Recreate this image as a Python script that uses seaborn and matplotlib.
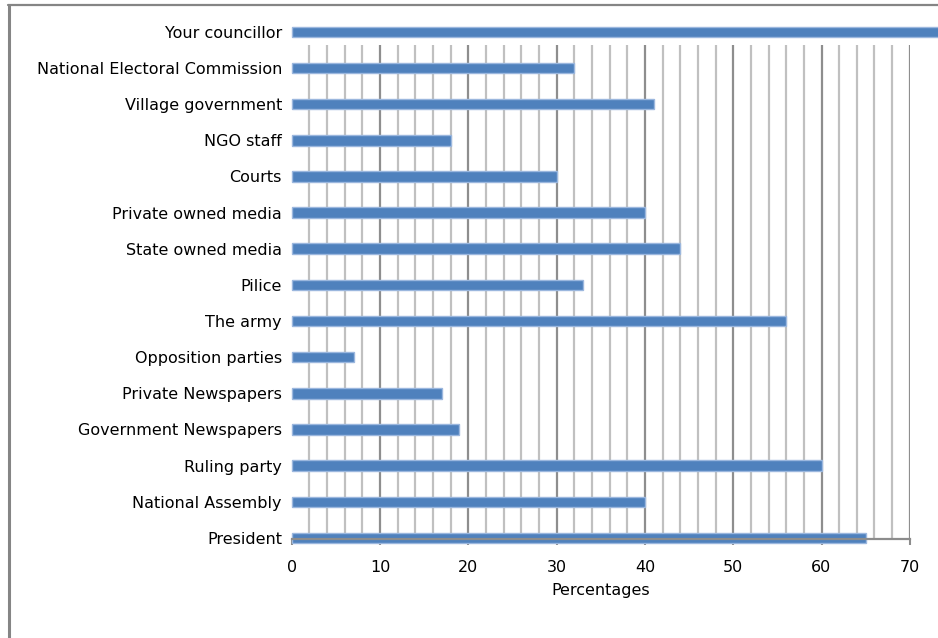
import matplotlib
matplotlib.use("Agg")
import matplotlib.pyplot as plt
from matplotlib.lines import Line2D
import seaborn as sns
import numpy as np
import pandas as pd

categories = [
    "Your councillor", "National Electoral Commission", "Village government",
    "NGO staff", "Courts", "Private owned media", "State owned media",
    "Pilice", "The army", "Opposition parties", "Private Newspapers",
    "Government Newspapers", "Ruling party", "National Assembly", "President",
]
values = [78, 32, 41, 18, 30, 40, 44, 33, 56, 7, 17, 19, 60, 40, 65]
x_ticks = [0, 10, 20, 30, 40, 50, 60, 70]
x_label = "Percentages"

sns.set_theme(style="white")
plt.rcParams["font.family"] = ["DejaVu Sans"]
FS = 11.5

df = pd.DataFrame({"category": categories, "value": values})

fig = plt.figure(figsize=(9.38, 6.38), dpi=100)
ax = fig.add_axes([291.7 / 938, 99 / 638, 618.1 / 938, 518 / 638])

sns.barplot(data=df, x="value", y="category", orient="h", color="#4F81BD",
            saturation=1, width=0.29, edgecolor="#9bb7de", linewidth=1.0, ax=ax)
for p in ax.patches:
    p.set_clip_on(False)
    p.set_zorder(2)

ax.set_xlim(0, 70)
ax.set_ylim(14.03, -0.3)

# gridlines
grid_top = 0.364
minor = np.arange(2, 71, 2)
for g in minor:
    major = (g % 10 == 0)
    ax.vlines(g, 14.03, grid_top, colors="#8e8e8e" if major else "#c0c0c0",
              linewidth=1.6, zorder=0.5)

for s in ["top", "right", "left"]:
    ax.spines[s].set_visible(False)
ax.spines["bottom"].set_visible(True)
ax.spines["bottom"].set_color("#8c8c8c")
ax.spines["bottom"].set_linewidth(1.6)
ax.spines["bottom"].set_bounds(0, 70)
ax.spines["bottom"].set_zorder(3)

ax.set_xticks(x_ticks)
ax.set_xticklabels([str(t) for t in x_ticks])
ax.tick_params(axis="x", length=4, width=1.5, color="#8c8c8c", pad=11,
               labelsize=FS, labelcolor="black", bottom=True)
ax.tick_params(axis="y", length=0, pad=7, labelsize=FS, labelcolor="black")
ax.set_ylabel("")
ax.set_xlabel(x_label, fontsize=FS, labelpad=6, color="black")

# figure frame (left and top edges)
fig.add_artist(Line2D([9 / 938, 9 / 938], [0, 1 - 5 / 638], transform=fig.transFigure,
                      color="#858585", linewidth=2.2))
fig.add_artist(Line2D([8.2 / 938, 1], [1 - 5 / 638, 1 - 5 / 638], transform=fig.transFigure,
                      color="#858585", linewidth=1.6))

fig.savefig("out.png", dpi=100)
